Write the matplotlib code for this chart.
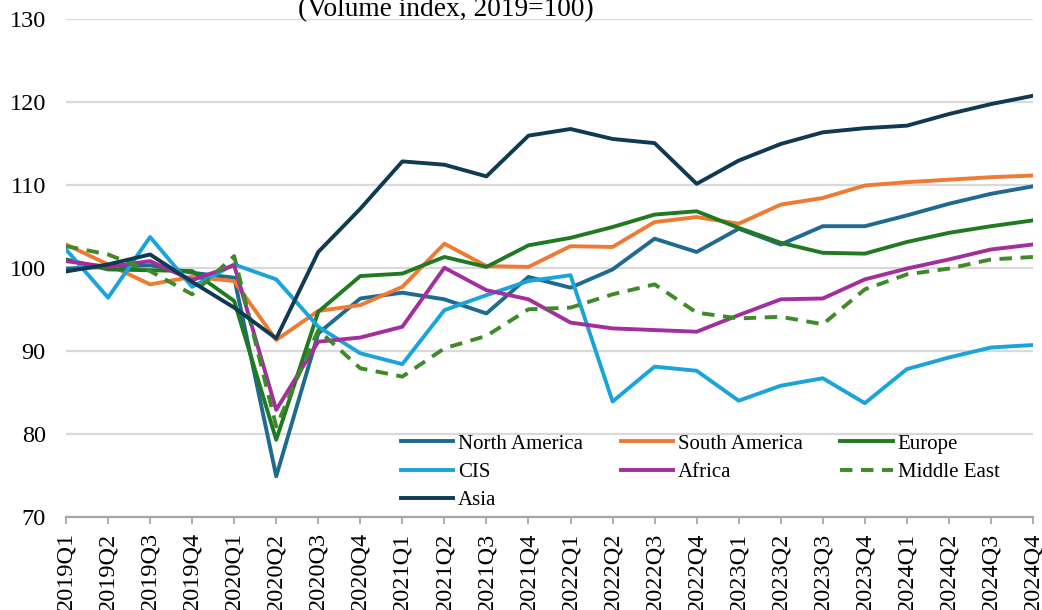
import matplotlib
matplotlib.use("Agg")
import matplotlib.pyplot as plt

plt.rcParams['font.family'] = ['Liberation Serif', 'DejaVu Serif']

quarters = ["2019Q1", "2019Q2", "2019Q3", "2019Q4",
            "2020Q1", "2020Q2", "2020Q3", "2020Q4",
            "2021Q1", "2021Q2", "2021Q3", "2021Q4",
            "2022Q1", "2022Q2", "2022Q3", "2022Q4",
            "2023Q1", "2023Q2", "2023Q3", "2023Q4",
            "2024Q1", "2024Q2", "2024Q3", "2024Q4"]

north_america = [99.9, 100.1, 100.3, 99.4, 98.8, 74.9, 92.1, 96.3, 97.0, 96.2, 94.5, 98.9,
                 97.6, 99.8, 103.5, 101.9, 104.7, 102.8, 105.0, 105.0, 106.3, 107.7, 108.9, 109.8]
south_america = [102.8, 100.4, 98.0, 98.9, 98.4, 91.3, 94.8, 95.5, 97.7, 102.9, 100.2, 100.1,
                 102.6, 102.5, 105.5, 106.1, 105.3, 107.6, 108.4, 109.9, 110.3, 110.6, 110.9, 111.1]
europe = [101.0, 99.8, 99.7, 99.6, 96.0, 79.3, 94.7, 99.0, 99.3, 101.3, 100.1, 102.7,
          103.6, 104.9, 106.4, 106.8, 104.8, 103.0, 101.8, 101.7, 103.1, 104.2, 105.0, 105.7]
cis = [102.2, 96.4, 103.7, 97.7, 100.4, 98.6, 92.9, 89.7, 88.4, 94.9, 96.7, 98.4,
       99.1, 83.9, 88.1, 87.6, 84.0, 85.8, 86.7, 83.7, 87.8, 89.2, 90.4, 90.7]
africa = [100.8, 100.1, 100.8, 98.5, 100.3, 82.9, 91.1, 91.6, 92.9, 100.0, 97.3, 96.2,
          93.4, 92.7, 92.5, 92.3, 94.3, 96.2, 96.3, 98.6, 99.9, 101.0, 102.2, 102.8]
middle_east = [102.6, 101.6, 99.6, 96.8, 101.4, 80.9, 92.5, 87.9, 86.9, 90.3, 91.8, 95.0,
               95.2, 96.8, 98.0, 94.6, 93.9, 94.1, 93.2, 97.4, 99.2, 99.9, 101.0, 101.3]
asia = [99.55, 100.4, 101.6, 98.3, 95.2, 91.5, 101.9, 107.1, 112.8, 112.4, 111.0, 115.9,
        116.7, 115.5, 115.0, 110.1, 112.9, 114.9, 116.3, 116.8, 117.1, 118.5, 119.7, 120.7]

series_names = ["North America", "South America", "Europe", "CIS", "Africa", "Middle East", "Asia"]
series_values = [north_america, south_america, europe, cis, africa, middle_east, asia]
series_colors = ["#1f6a90", "#ee7a33", "#1f7a22", "#1ba3dc", "#a22f9c", "#3e8a29", "#0f3a52"]
series_dashed = [False, False, False, False, False, True, False]

title_text = "(Volume index, 2019=100)"
y_ticks = [70, 80, 90, 100, 110, 120, 130]

W, H = 1042, 610
fig = plt.figure(figsize=(W / 100, H / 100), dpi=100)
ax_left, ax_right, ax_top, ax_bot = 66, 1033, 18.5, 517
ax = fig.add_axes([ax_left / W, 1 - ax_bot / H, (ax_right - ax_left) / W, (ax_bot - ax_top) / H])

x = list(range(len(quarters)))
handles = {}
for name, vals, col, dashed in zip(series_names, series_values, series_colors, series_dashed):
    if dashed:
        ln, = ax.plot(x, vals, color=col, lw=2.8, dashes=(3.2, 2.2),
                      dash_capstyle='butt', label=name)
    else:
        ln, = ax.plot(x, vals, color=col, lw=2.8, label=name)
    handles[name] = ln

ax.set_xlim(0, len(quarters) - 1)
ax.set_ylim(70, 130)
ax.set_yticks(y_ticks)
ax.set_yticklabels([str(v) for v in y_ticks], fontsize=17.5)
ax.set_xticks(x)
ax.set_xticklabels(quarters, rotation=90, fontsize=17.5)
ax.tick_params(axis='y', length=0, pad=14.5)
ax.tick_params(axis='x', direction='out', length=5, width=1.3, color='#a6a6a6', pad=6)
ax.grid(axis='y', color='#d9d9d9', lw=1.6, zorder=0)
ax.set_axisbelow(True)
for s in ['left', 'right', 'top']:
    ax.spines[s].set_visible(False)
ax.spines['bottom'].set_color('#a6a6a6')
ax.spines['bottom'].set_linewidth(1.6)

order = ["North America", "CIS", "Asia", "South America", "Africa", "Europe", "Middle East"]
lx = (401 - ax_left) / (ax_right - ax_left)
ly = (ax_bot - 434) / (ax_bot - ax_top)
leg = ax.legend([handles[n] for n in order], order, loc='upper left', bbox_to_anchor=(lx, ly),
                ncol=3, frameon=False, fontsize=15, borderpad=0, borderaxespad=0,
                handlelength=2.5, handletextpad=0.25, columnspacing=1.8, labelspacing=0.42)

fig.text(446 / W, 1 - 16.5 / H, title_text, ha='center', va='baseline', fontsize=19.7)

fig.savefig("out.png", dpi=100)
